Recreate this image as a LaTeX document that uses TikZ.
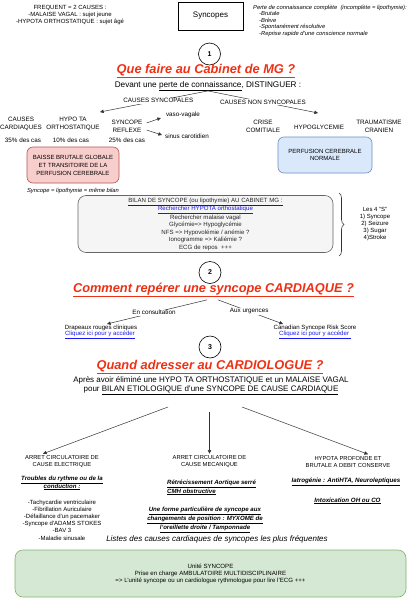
\documentclass[tikz,border=0pt]{standalone}
\usepackage{fontspec}
\setmainfont{Liberation Sans}
\usetikzlibrary{arrows.meta,decorations.pathreplacing}
\definecolor{titlered}{RGB}{238,48,20}
\definecolor{linkblue}{RGB}{25,25,235}
\definecolor{redfill}{HTML}{F8CECC}
\definecolor{redline}{HTML}{B85450}
\definecolor{bluefill}{HTML}{DAE8FC}
\definecolor{blueline}{HTML}{6C8EBF}
\definecolor{grayfill}{HTML}{F5F5F5}
\definecolor{grayline}{HTML}{666666}
\definecolor{greenfill}{HTML}{D5E8D4}
\definecolor{greenline}{HTML}{82B366}
\newcommand{\lnk}[1]{\textcolor{linkblue}{\underline{#1}}}
\newcommand{\bu}[1]{\underline{\textbf{\textit{#1}}}}
\tikzset{
  txt/.style={inner sep=0pt, align=center, font=\fontsize{6.1}{7.4}\selectfont},
  grp/.style={txt, font=\fontsize{6.3}{8}\selectfont},
  ttl/.style={inner sep=0pt, anchor=base, text=titlered, font=\fontsize{12.8}{15}\selectfont\bfseries\itshape},
  num/.style={circle, draw, line width=0.6pt, minimum size=22pt, inner sep=0pt, fill=white, font=\fontsize{7}{8}\selectfont\bfseries},
  box/.style={rounded corners=6pt, line width=0.6pt, align=center, inner sep=0pt},
  arr/.style={-{Triangle[length=3.6pt,width=3.4pt]}, line width=0.5pt, draw=black!80},
  elab/.style={fill=white, inner sep=0.8pt, font=\fontsize{6.3}{7.5}\selectfont}
}
\begin{document}
\begin{tikzpicture}[x=1pt,y=-1pt]
\fill[white] (0,0) rectangle (420,600);
\useasboundingbox (0,0) rectangle (420,600);

% header
\node[txt, font=\fontsize{6}{7}\selectfont] (freq) at (70,15) {FREQUENT = 2 CAUSES :\\-MALAISE VAGAL : sujet jeune\\-HYPOTA ORTHOSTATIQUE : sujet âgé};
\node[draw, line width=0.6pt, minimum width=65pt, minimum height=28pt, inner sep=0pt, font=\fontsize{8}{9}\selectfont] (syn) at (210.5,16) {Syncopes};
\node[txt, anchor=north west, align=left, font=\fontsize{5.8}{6.5}\selectfont\itshape] (perte) at (253,5) {Perte de connaissance complète~ (incomplète = lipothymie):\\\hspace*{6pt}-Brutale\\\hspace*{6pt}-Brève\\\hspace*{6pt}-Spontanément résolutive\\\hspace*{6pt}-Reprise rapide d'une conscience normale};

% section 1
\node[num] (c1) at (209.5,54) {1};
\node[ttl] (t1) at (206,73.5) {\underline{Que faire au Cabinet de MG ?}};
\node[txt, anchor=base, font=\fontsize{8.2}{10}\selectfont] (dev) at (208,87) {Devant une \underline{perte de connaissance}, DISTINGUER :};

\node[grp] (cc) at (21,124) {CAUSES\\CARDIAQUES};
\node[grp] (hta) at (73,124) {HYPO TA\\ORTHOSTATIQUE};
\node[grp] (refl) at (127,126) {SYNCOPE\\REFLEXE};
\node[grp] (p35) at (23,140) {35\% des cas};
\node[grp] (p10) at (71,140) {10\% des cas};
\node[grp] (p25) at (127,140) {25\% des cas};
\node[grp] (vaso) at (183,115) {vaso-vagale};
\node[grp] (sinus) at (187,136) {sinus carotidien};
\node[grp] (crise) at (263,126) {CRISE\\COMITIALE};
\node[grp] (hypo) at (319,127) {HYPOGLYCEMIE};
\node[grp] (trauma) at (379,126) {TRAUMATISME\\CRANIEN};

\coordinate (e1) at (100,112);
\coordinate (e2) at (318,113);
\draw[arr] (dev.south) -- node[elab, pos=0.46] {CAUSES SYNCOPALES} (e1);
\draw[arr] (dev.south) -- node[elab, pos=0.5] {CAUSES NON SYNCOPALES} (e2);
\draw[arr] ([xshift=4,yshift=3]refl.east) -- ([xshift=-5,yshift=-3]vaso.west);
\draw[arr] ([xshift=4,yshift=-4]refl.east) -- ([xshift=-3,yshift=1]sinus.west);

\node[box, fill=redfill, draw=redline, minimum width=92pt, minimum height=36pt, font=\fontsize{6}{8}\selectfont] (baisse) at (73,165) {BAISSE BRUTALE GLOBALE\\ET TRANSITOIRE DE LA\\PERFUSION CEREBRALE};
\node[box, fill=bluefill, draw=blueline, minimum width=94pt, minimum height=36pt, font=\fontsize{6}{7.5}\selectfont] (perf) at (325,155) {PERFUSION CEREBRALE\\NORMALE};
\node[txt, font=\fontsize{5.8}{7}\selectfont\itshape] (lipo) at (73,191) {Syncope = lipothymie = même bilan};

\node[box, rounded corners=8pt, fill=grayfill, draw=grayline, text=black!85, minimum width=255pt, minimum height=57pt, font=\fontsize{6.1}{7.4}\selectfont] (bilan) at (205.5,224) {\underline{BILAN DE SYNCOPE (ou lipothymie) AU CABINET MG :}\\\lnk{Rechercher HYPOTA orthostatique}\\Rechercher malaise vagal\\Glycémie=> Hypoglycémie\\NFS => Hypovolémie / anémie ?\\Ionogramme => Kaliémie ?\\ECG de repos~~+++};
\draw[decorate, decoration={brace, amplitude=5pt}, line width=0.6pt, draw=black!80] (339,193) -- (339,256);
\node[txt, font=\fontsize{6}{7.2}\selectfont] (les) at (375,224) {Les 4 "S"\\1) Syncope\\2) Seizure\\3) Sugar\\4)Stroke};

% section 2
\node[num] (c2) at (210,272.5) {2};
\node[ttl] (t2) at (213.5,292) {\underline{Comment repérer une syncope CARDIAQUE ?}};
\node[txt] (drap) at (101,327.5) {Drapeaux rouges cliniques};
\node[txt] (lk1) at (100,335) {\lnk{Cliquez ici pour y accéder}};
\node[txt] (can) at (315,327.5) {Canadian Syncope Risk Score};
\node[txt] (lk2) at (315,335) {\lnk{Cliquez ici pour y accéder~}};
\draw[arr] ([xshift=-6.5,yshift=-3]t2.south) -- node[elab, pos=0.53] {En consultation} ([xshift=6,yshift=0.5]drap.north);
\draw[arr] ([xshift=4.5,yshift=-3]t2.south) -- node[elab, pos=0.48] {Aux urgences} ([xshift=-32,yshift=0.5]can.north);

% section 3
\node[num] (c3) at (210,347) {3};
\node[ttl] (t3) at (210,369) {\underline{Quand adresser au CARDIOLOGUE ?}};
\node[txt, font=\fontsize{8}{9}\selectfont] (apres) at (211,385.5) {Après avoir éliminé une HYPO TA ORTHOSTATIQUE et un MALAISE VAGAL\\pour \underline{BILAN ETIOLOGIQUE d'une SYNCOPE DE CAUSE CARDIAQUE}};

\node[txt, font=\fontsize{5.8}{7}\selectfont] (col1) at (62,461.5) {ARRET CIRCULATOIRE DE\\CAUSE ELECTRIQUE};
\node[txt, font=\fontsize{5.8}{7}\selectfont] (col2) at (209.5,461.5) {ARRET CIRCULATOIRE DE\\CAUSE MECANIQUE};
\node[txt, font=\fontsize{5.8}{7}\selectfont] (col3) at (348,461.5) {HYPOTA PROFONDE ET\\BRUTALE A DEBIT CONSERVE};

\coordinate (b1) at (168,407);
\coordinate (b2) at (209.5,412);
\coordinate (b3) at (242,407);
\draw[arr] (b1) -- ([xshift=-19,yshift=1.5]col1.north);
\draw[arr] (b2) -- ([yshift=1.5]col2.north);
\draw[arr] (b3) -- ([xshift=20,yshift=1.5]col3.north);

\node[txt, font=\fontsize{6.1}{8}\selectfont] (trb) at (62,483) {\bu{Troubles du rythme ou de la}\\\bu{conduction :}};
\node[txt, font=\fontsize{6}{7.2}\selectfont] (lst) at (62,520) {-Tachycardie ventriculaire\\-Fibrillation Auriculaire\\-Défaillance d'un pacemaker\\-Syncope d'ADAMS STOKES\\-BAV 3\\-Maladie sinusale};
\node[txt, anchor=west, align=left, font=\fontsize{6.1}{7}\selectfont] (retr) at (167,487.5) {\bu{Rétrécissement Aortique serré}\\\bu{CMH obstructive}};
\node[txt, font=\fontsize{6.1}{6.8}\selectfont] (forme) at (205,520) {\bu{Une forme particulière de syncope aux}\\\bu{changements de position : MYXOME de}\\\bu{l'oreillette droite / Tamponnade}};
\node[txt, font=\fontsize{6.2}{7}\selectfont] (iatro) at (346,482) {\bu{Iatrogénie : AntiHTA, Neuroleptiques}};
\node[txt, font=\fontsize{6.2}{7}\selectfont] (intox) at (347.5,501) {\bu{Intoxication OH ou CO}};
\node[txt, font=\fontsize{8}{9}\selectfont\itshape] (listes) at (217,539) {Listes des causes cardiaques de syncopes les plus fréquentes};

\node[box, rounded corners=8pt, fill=greenfill, draw=greenline, minimum width=391pt, minimum height=47pt, font=\fontsize{6.1}{7}\selectfont] (unite) at (210.5,573.5) {Unité SYNCOPE\\Prise en charge AMBULATOIRE MULTIDISCIPLINAIRE\\=> L'unité syncope ou un cardiologue rythmologue pour lire l'ECG +++};
\end{tikzpicture}
\end{document}
